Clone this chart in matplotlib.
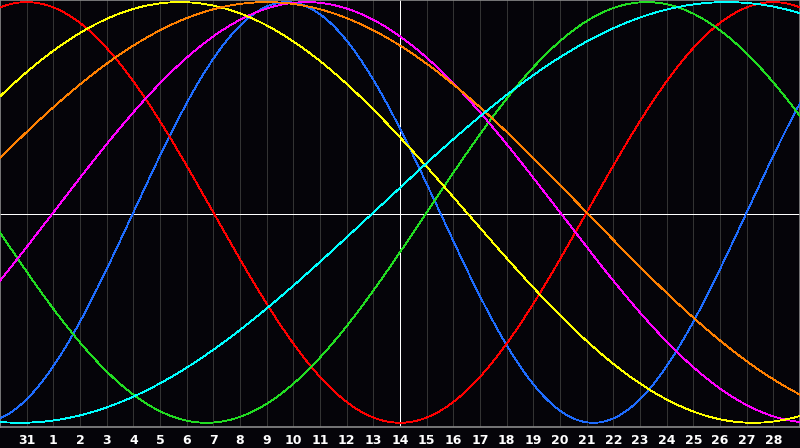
import matplotlib
matplotlib.use('Agg')
import matplotlib.pyplot as plt
import numpy as np

# day labels under the grid lines (Jan 31, then February)
day_labels = ['31'] + [str(d) for d in range(1, 29)]
day_pos = list(range(1, 30))
n_days = 30
today_pos = 15

# biorhythm cycles: length in days and the day index where each one rises through zero
cycle_len = [23, 28, 33, 38, 43, 48, 53]
rise_day = [5, 22, 16, 2, -4, -2, 14]
cycle_color = ['#1e6cff', '#ff0000', '#22dd22', '#ff00ff', '#ffff00', '#ff8000', '#00ffff']

bg = '#050409'

def plot_bio():
    fig = plt.figure(figsize=(8, 4.48), dpi=100, facecolor=bg)
    ax = fig.add_axes([0, 21 / 448, 1, 427 / 448])
    ax.set_facecolor(bg)

    ax.set_xlim(0, n_days)
    ax.set_ylim(-1.02, 1.01)

    for p in day_pos:
        ax.axvline(p, color='#333333', lw=0.6, antialiased=False, zorder=1)

    t = np.linspace(0, n_days, 1201)
    for length, rise, col in zip(cycle_len, rise_day, cycle_color):
        ax.plot(t, np.sin(2 * np.pi * (t - rise) / length), color=col, lw=0.6,
                antialiased=False, zorder=3)

    ax.axhline(-0.007, color='white', lw=0.72, antialiased=False, zorder=2)
    ax.axvline(today_pos, color='white', lw=0.72, antialiased=False, zorder=2)

    ax.set_xticks(day_pos)
    ax.set_xticklabels(day_labels, color='white', fontsize=9, fontweight='bold')
    ax.tick_params(axis='x', length=0, pad=5)
    ax.set_yticks([])
    for s in ax.spines.values():
        s.set_color('#8a8a8a')
        s.set_linewidth(1.2)

    fig.savefig('out.png', dpi=100, facecolor=bg)

if __name__ == "__main__":
    plot_bio()
